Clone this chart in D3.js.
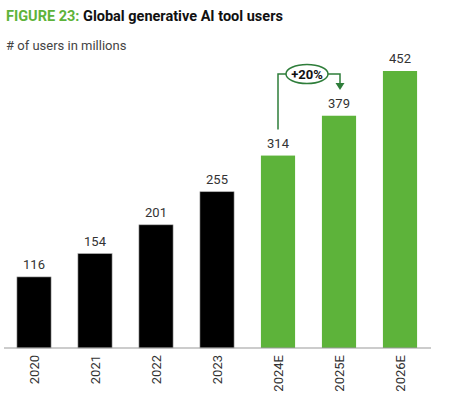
<!DOCTYPE html>
<html>
<head>
<meta charset="utf-8">
<script src="https://cdn.jsdelivr.net/npm/d3@7"></script>
<style>
  body { margin: 0; background: #fff; }
  text { font-family: Roboto, "Liberation Sans", Arial, sans-serif; }
</style>
</head>
<body>
<svg id="chart"></svg>
<script>
// data
var years = ["2020", "2021", "2022", "2023", "2024E", "2025E", "2026E"];
var users = [116, 154, 201, 255, 314, 379, 452];
var estimated = [false, false, false, false, true, true, true];
var growthLabel = "+20%";

var width = 455, height = 393;
var baseY = 348;

var svg = d3.select("#chart").attr("width", width).attr("height", height);

// title
var title = svg.append("text").attr("x", 6).attr("y", 21)
  .style("font-size", "14.5px").style("font-weight", "bold");
title.append("tspan").attr("fill", "#5db33a").text("FIGURE 23: ");
title.append("tspan").attr("fill", "#111").text("Global generative AI tool users");

svg.append("text").attr("x", 6).attr("y", 50)
  .style("font-size", "13px").attr("fill", "#444")
  .text("# of users in millions");

// scales
var x = d3.scaleBand().domain(years).range([3.5, 430.5])
  .paddingInner(0.44).paddingOuter(0.22);
var y = d3.scaleLinear().domain([0, 452]).range([baseY, 71]);

var data = years.map(function (d, i) { return { year: d, value: users[i], est: estimated[i] }; });

// bars
svg.append("g").selectAll("rect")
  .data(data)
  .enter()
  .append("rect")
  .attr("x", function (d) { return x(d.year); })
  .attr("y", function (d) { return y(d.value); })
  .attr("width", x.bandwidth())
  .attr("height", function (d) { return baseY - y(d.value); })
  .attr("fill", function (d) { return d.est ? "#5db33a" : "#000"; })
  .attr("stroke", function (d) { return d.est ? "none" : "#aaa"; })
  .attr("stroke-width", 0.6);

// value labels
svg.append("g").selectAll("text")
  .data(data)
  .enter()
  .append("text")
  .attr("x", function (d) { return x(d.year) + x.bandwidth() / 2; })
  .attr("y", function (d) { return y(d.value) - 8; })
  .attr("text-anchor", "middle")
  .style("font-size", "13px")
  .attr("fill", "#333")
  .text(function (d) { return d.value; });

// x axis
var xAxis = svg.append("g")
  .attr("transform", "translate(0," + baseY + ")")
  .call(d3.axisBottom(x).tickSize(0).tickPadding(0));
xAxis.select(".domain").attr("stroke", "#999").attr("stroke-width", 1.2)
  .attr("d", "M4,0H431");
xAxis.selectAll("text")
  .attr("transform", "translate(0,7) rotate(-90)")
  .attr("x", 0).attr("y", 0).attr("dy", "0.35em")
  .attr("text-anchor", "end")
  .style("font-size", "13px")
  .style("font-family", "Roboto, 'Liberation Sans', Arial, sans-serif")
  .attr("fill", "#333");

// growth annotation between 2024E and 2025E
var ann = "#2e7d3a";
var x0 = x("2024E") + x.bandwidth() / 2;
var x1 = x("2025E") + x.bandwidth() / 2 + 1;
var ay = 74;
var cx = (x0 + x1) / 2 - 2;
var g = svg.append("g");
g.append("path")
  .attr("d", "M" + x0 + "," + (y(users[4]) - 26) + "V" + ay + "H" + (cx - 21))
  .attr("fill", "none").attr("stroke", ann).attr("stroke-width", 1.5);
g.append("path")
  .attr("d", "M" + (cx + 21) + "," + ay + "H" + x1 + "V" + (ay + 10))
  .attr("fill", "none").attr("stroke", ann).attr("stroke-width", 1.5);
g.append("path")
  .attr("d", "M" + (x1 - 4.5) + "," + (ay + 9) + "L" + (x1 + 4.5) + "," + (ay + 9) + "L" + x1 + "," + (ay + 16) + "Z")
  .attr("fill", ann);
g.append("ellipse")
  .attr("cx", cx).attr("cy", ay).attr("rx", 21).attr("ry", 9.5)
  .attr("fill", "#fff").attr("stroke", ann).attr("stroke-width", 1.5);
g.append("text")
  .attr("x", cx).attr("y", ay + 4.5)
  .attr("text-anchor", "middle")
  .style("font-size", "13px").style("font-weight", "bold")
  .attr("fill", "#111")
  .text(growthLabel);
</script>
</body>
</html>
